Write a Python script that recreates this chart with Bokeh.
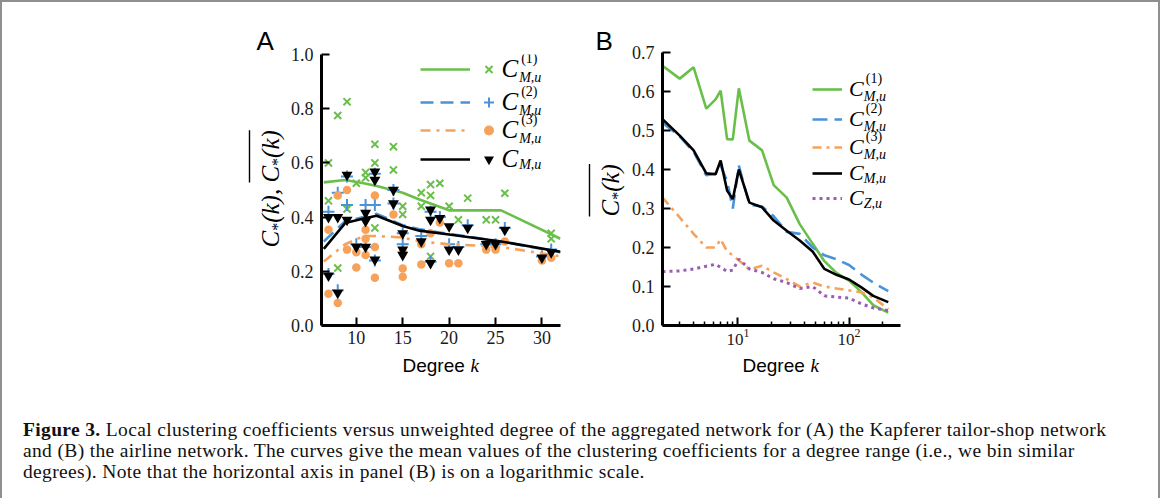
import math
from bokeh.plotting import figure
from bokeh.models import (Label, Legend, LegendItem, Arrow, FixedTicker, Div, Range1d,
                          NumeralTickFormatter, LogTickFormatter)
from bokeh.layouts import row, column
from bokeh.embed import file_html
from bokeh.resources import INLINE

GREEN = "#6abf4b"
BLUE = "#4a93d8"
ORANGE = "#f7a25a"
PURPLE = "#9b5cb4"
BLACK = "#000000"

# ---------------- Panel A: Kapferer tailor shop (scatter + binned means) ----------------
a_k_c1 = [7, 7, 8, 8, 9, 9, 10, 11, 11, 12, 12, 12, 14, 14, 15, 15, 17, 17, 18, 18, 18, 19, 20, 21, 22, 24, 25, 26, 31, 31]
a_c1 = [0.60, 0.46, 0.775, 0.212, 0.826, 0.43, 0.525, 0.565, 0.545, 0.669, 0.60, 0.36, 0.66, 0.574, 0.44, 0.41,
        0.49, 0.44, 0.52, 0.48, 0.255, 0.525, 0.44, 0.39, 0.47, 0.39, 0.39, 0.488, 0.34, 0.32]

a_k_c2 = [7, 7, 8, 8, 9, 9, 10, 11, 11, 12, 12, 12, 14, 14, 15, 15, 17, 18, 18, 19, 20, 21, 22, 24, 25, 26, 30, 31]
a_c2 = [0.42, 0.19, 0.49, 0.13, 0.445, 0.55, 0.30, 0.445, 0.29, 0.445, 0.56, 0.24, 0.50, 0.45, 0.34, 0.30,
        0.33, 0.42, 0.235, 0.40, 0.30, 0.29, 0.37, 0.30, 0.30, 0.36, 0.255, 0.28]

a_k_c3 = [7, 7, 8, 8, 9, 9, 10, 10, 11, 11, 11, 12, 12, 12, 14, 15, 15, 15, 17, 17, 18, 19, 20, 21, 24, 25, 26, 30, 31]
a_c3 = [0.117, 0.353, 0.083, 0.48, 0.50, 0.28, 0.27, 0.214, 0.353, 0.32, 0.26, 0.48, 0.29, 0.176, 0.41, 0.21,
        0.18, 0.27, 0.225, 0.30, 0.34, 0.38, 0.23, 0.23, 0.28, 0.28, 0.31, 0.24, 0.25]

a_k_cm = [7, 7, 8, 8, 9, 9, 10, 11, 11, 11, 12, 12, 12, 14, 14, 15, 15, 15, 17, 18, 18, 18, 19, 20, 20, 21, 22, 24, 25, 26, 30, 31]
a_cm = [0.184, 0.40, 0.40, 0.12, 0.556, 0.39, 0.29, 0.29, 0.415, 0.385, 0.568, 0.537, 0.243, 0.50, 0.45, 0.34,
        0.28, 0.26, 0.31, 0.427, 0.39, 0.23, 0.396, 0.366, 0.28, 0.28, 0.36, 0.30, 0.30, 0.353, 0.25, 0.27]

a_bin_k = [6.5, 8.8, 10.8, 12.2, 15.0, 16.8, 20.0, 25.6, 32.0]
a_c1_mean = [0.528, 0.537, 0.525, 0.515, 0.49, 0.465, 0.425, 0.425, 0.32]
a_c2_mean = [0.31, 0.385, 0.40, 0.412, 0.37, 0.355, 0.338, 0.31, 0.27]
a_c3_mean = [0.236, 0.30, 0.33, 0.33, 0.325, 0.31, 0.30, 0.29, 0.255]
a_cm_mean = [0.283, 0.378, 0.395, 0.405, 0.367, 0.35, 0.336, 0.31, 0.272]

a_xticks = [10, 15, 20, 25, 30]
a_yticks = [0.0, 0.2, 0.4, 0.6, 0.8, 1.0]

# ---------------- Panel B: airline network (binned means, log degree) ----------------
b_k = [2.1, 3, 4, 5.2, 6.3, 7, 8, 9, 10.2, 12.7, 16.5, 21, 27.5, 36, 47, 60, 77, 100, 130, 165, 225]
b_c1 = [0.666, 0.633, 0.662, 0.556, 0.58, 0.602, 0.478, 0.477, 0.608, 0.474, 0.449, 0.36, 0.328, 0.26, 0.21,
        0.165, 0.135, 0.115, 0.085, 0.052, 0.033]
b_c2 = [0.52, 0.485, 0.445, 0.385, 0.39, 0.41, 0.37, 0.30, 0.41, 0.31, 0.305, 0.28, 0.24, 0.235, 0.20,
        0.18, 0.17, 0.155, 0.13, 0.11, 0.088]
b_c3 = [0.328, 0.277, 0.235, 0.20, 0.20, 0.221, 0.19, 0.18, 0.167, 0.144, 0.153, 0.136, 0.119, 0.10, 0.11,
        0.10, 0.095, 0.09, 0.085, 0.072, 0.042]
b_cm = [0.529, 0.487, 0.449, 0.39, 0.388, 0.423, 0.346, 0.324, 0.40, 0.315, 0.303, 0.269, 0.243, 0.218, 0.19,
        0.145, 0.13, 0.118, 0.097, 0.076, 0.06]
b_cz = [0.138, 0.14, 0.145, 0.152, 0.157, 0.149, 0.139, 0.142, 0.17, 0.145, 0.136, 0.12, 0.11, 0.095, 0.10,
        0.076, 0.073, 0.07, 0.055, 0.045, 0.038]

b_xticks = [10, 100]
b_xminor = [3, 4, 5, 6, 7, 8, 9, 20, 30, 40, 50, 60, 70, 80, 90, 200]
b_yticks = [0.0, 0.1, 0.2, 0.3, 0.4, 0.5, 0.6, 0.7]

# ---------------- geometry (page pixels) ----------------
ORG = 8
TOTAL_W = 1150
A_XR, A_YR = (6.25, 32.0), (0.0, 1.0)
A_LEFT, A_TOP, A_W, A_H = 328, 62, 240, 271
B_XR, B_YR = (2.1, 290.0), (0.0, 0.7)
B_LEFT, B_TOP, B_W, B_H = 668, 60, 240, 273
PA_X, PA_W = 295, 295          # figure A spans 295..590
PB_X, PB_W = 636, 522          # figure B spans 636..1158
PLOT_BOTTOM = 360
ROW_H = PLOT_BOTTOM - ORG
STRIP_H = 28
CAP_H = 488 - ROW_H - STRIP_H


def ax_(px):
    return A_XR[0] + (px - A_LEFT) * (A_XR[1] - A_XR[0]) / A_W


def ay_(py):
    return A_YR[0] + (A_TOP + A_H - py) * (A_YR[1] - A_YR[0]) / A_H


def bx_(px):
    l0, l1 = math.log10(B_XR[0]), math.log10(B_XR[1])
    return 10 ** (l0 + (px - B_LEFT) * (l1 - l0) / B_W)


def by_(py):
    return B_YR[0] + (B_TOP + B_H - py) * (B_YR[1] - B_YR[0]) / B_H


def lab(p, x, y, text, size, font="Liberation Serif", style="normal", angle=0.0,
        align="left", baseline="middle"):
    p.add_layout(Label(x=x, y=y, text=text, text_font=font, text_font_size=f"{size}px",
                       text_font_style=style, angle=angle, text_align=align,
                       text_baseline=baseline, text_color="black"))


def canvas(x0, y0, w, h):
    """A bare figure whose frame is the whole box; its coordinates are page pixels."""
    c = figure(x_range=Range1d(x0, x0 + w), y_range=Range1d(y0 + h, y0),
               width=w, height=h, min_border=0,
               min_border_left=0, min_border_right=0, min_border_top=0, min_border_bottom=0,
               x_axis_location=None, y_axis_location=None, title=None,
               output_backend="svg", toolbar_location=None)
    c.outline_line_color = None
    c.background_fill_color = None
    c.border_fill_color = None
    c.grid.visible = False
    return c


def style_axes(p):
    p.outline_line_color = None
    p.grid.visible = False
    p.background_fill_color = None
    p.border_fill_color = None
    for ax in (p.xaxis[0], p.yaxis[0]):
        ax.axis_line_width = 3
        ax.axis_line_color = "black"
        ax.major_tick_line_width = 2
        ax.major_tick_in = 8
        ax.major_tick_out = 0
        ax.minor_tick_line_color = None
        ax.major_label_text_font = "Liberation Serif"
        ax.major_label_text_font_size = "18px"
        ax.major_label_text_color = "#1a1a1a"
        ax.major_label_standoff = 8
    p.xaxis.major_label_standoff = 5


def add_legend(p, renderer, loc, gw, gh, label, standoff, size=25, lw=0):
    lg = Legend(items=[LegendItem(label=label, renderers=[renderer])], location=loc,
                glyph_width=gw, glyph_height=gh, label_height=gh, label_width=lw,
                label_standoff=standoff, padding=0, margin=0, spacing=0,
                border_line_color=None, background_fill_alpha=0,
                label_text_font="Liberation Serif", label_text_font_style="italic",
                label_text_font_size=f"{size}px", label_text_color="black")
    p.add_layout(lg)


def rotated_label(c, xb, y_start, pieces, over_from, over_x):
    """Vertical (reading upward) math-like label built from pieces, with an overline."""
    y = y_start
    starts = []
    for t, s, st, sh, w in pieces:
        starts.append(y)
        lab(c, xb + sh, y, t, s, style=st, angle=math.pi / 2, baseline="alphabetic")
        y -= w * s
    c.add_layout(Arrow(x_start=over_x, y_start=starts[over_from], x_end=over_x, y_end=y,
                       start=None, end=None, line_width=1.4, line_color="black"))


# ================= Panel A =================
pA = figure(width=PA_W, height=ROW_H, x_range=Range1d(*A_XR), y_range=Range1d(*A_YR),
            min_border_left=A_LEFT - PA_X, min_border_right=PA_X + PA_W - (A_LEFT + A_W),
            min_border_top=A_TOP - ORG, min_border_bottom=PLOT_BOTTOM - (A_TOP + A_H),
            title=None, output_backend="svg", toolbar_location=None)
style_axes(pA)
pA.xaxis.ticker = FixedTicker(ticks=a_xticks)
pA.yaxis.ticker = FixedTicker(ticks=a_yticks)
pA.yaxis.formatter = NumeralTickFormatter(format="0.0")

sA1 = pA.scatter(a_k_c1, a_c1, marker="x", size=10, line_color=GREEN, line_width=2)
lA1 = pA.line(a_bin_k, a_c1_mean, line_color=GREEN, line_width=2.6)
sA2 = pA.scatter(a_k_c2, a_c2, marker="cross", size=12, line_color=BLUE, line_width=2)
lA2 = pA.line(a_bin_k, a_c2_mean, line_color=BLUE, line_width=2.6, line_dash="13 7")
sA3 = pA.scatter(a_k_c3, a_c3, marker="circle", size=8.5, fill_color=ORANGE, line_color=None)
lA3 = pA.line(a_bin_k, a_c3_mean, line_color=ORANGE, line_width=2.6, line_dash="10 6 3 6")
sA4 = pA.scatter(a_k_cm, a_cm, marker="inverted_triangle", size=11, fill_color=BLACK, line_color=None)
lA4 = pA.line(a_bin_k, a_cm_mean, line_color=BLACK, line_width=2.6)

A_BOTTOM = A_TOP + A_H
rowsA = [77, 110, 138, 167]
supsA = ["(1)", "(2)", "(3)", None]
for c, ln, sc, sup in zip(rowsA, [lA1, lA2, lA3, lA4], [sA1, sA2, sA3, sA4], supsA):
    add_legend(pA, ln, (427 - A_LEFT, A_BOTTOM - (c + 20)), 50, 40, " ", 0)
    add_legend(pA, sc, (482.5 - A_LEFT, A_BOTTOM - (c + 20)), 25, 40, "C", 1)
    xC = 508.5
    if sup:
        lab(pA, ax_(xC + 20), ay_(c - 11), sup, 14)
        lab(pA, ax_(xC + 18), ay_(c + 8), "M,u", 14, style="italic")
    else:
        lab(pA, ax_(xC + 18), ay_(c + 5), "M,u", 14, style="italic")

# ================= Panel B =================
pB = figure(width=PB_W, height=ROW_H, x_axis_type="log",
            x_range=Range1d(*B_XR), y_range=Range1d(*B_YR),
            min_border_left=B_LEFT - PB_X, min_border_right=PB_X + PB_W - (B_LEFT + B_W),
            min_border_top=B_TOP - ORG, min_border_bottom=PLOT_BOTTOM - (B_TOP + B_H),
            title=None, output_backend="svg", toolbar_location=None)
style_axes(pB)
pB.xaxis.ticker = FixedTicker(ticks=b_xticks, minor_ticks=b_xminor)
pB.xaxis.formatter = LogTickFormatter()
pB.xaxis.major_label_standoff = 3
pB.xaxis.major_label_text_font_size = "17px"
pB.xaxis.minor_tick_line_color = "black"
pB.xaxis.minor_tick_line_width = 1.5
pB.xaxis.minor_tick_in = 4
pB.xaxis.minor_tick_out = 0
pB.yaxis.ticker = FixedTicker(ticks=b_yticks)
pB.yaxis.formatter = NumeralTickFormatter(format="0.0")

lB1 = pB.line(b_k, b_c1, line_color=GREEN, line_width=2.6)
lB2 = pB.line(b_k, b_c2, line_color=BLUE, line_width=2.6, line_dash="15 7")
lB3 = pB.line(b_k, b_c3, line_color=ORANGE, line_width=2.6, line_dash="9 5 3 5")
lB4 = pB.line(b_k, b_cm, line_color=BLACK, line_width=2.6)
lB5 = pB.line(b_k, b_cz, line_color=PURPLE, line_width=3, line_dash="3 4")

B_BOTTOM = B_TOP + B_H
rowsB = [97, 127, 155, 181, 206]
supsB = ["(1)", "(2)", "(3)", None, None]
subsB = ["M,u", "M,u", "M,u", "M,u", "Z,u"]
for c, ln, sup, sub in zip(rowsB, [lB1, lB2, lB3, lB4, lB5], supsB, subsB):
    add_legend(pB, ln, (818 - B_LEFT, B_BOTTOM - (c + 20)), 30, 40, "C", 7, size=22)
    xC = 855
    if sup:
        lab(pB, bx_(xC + 18), by_(c - 11), sup, 14)
        lab(pB, bx_(xC + 16), by_(c + 7), sub, 14, style="italic")
    else:
        lab(pB, bx_(xC + 16), by_(c + 5), sub, 14, style="italic")

# ================= text canvases around the panels =================
tA_left = canvas(ORG, ORG, PA_X - ORG, ROW_H)
lab(tA_left, 264, 48, "A", 26, font="Liberation Sans")
rotated_label(tA_left, 278, 255,
              [("C", 25, "italic", 0, 0.667), ("*", 16, "normal", 7, 0.5), ("(k), ", 25, "italic", 0, 1.61),
               ("C", 25, "italic", 0, 0.667), ("*", 16, "normal", 7, 0.5), ("(k)", 25, "italic", 0, 1.11)],
              3, 257)

tB_left = canvas(PA_X + PA_W, ORG, PB_X - (PA_X + PA_W), ROW_H)
lab(tB_left, 603, 48, "B", 26, font="Liberation Sans")
rotated_label(tB_left, 618, 224,
              [("C", 25, "italic", 0, 0.667), ("*", 16, "normal", 7, 0.5), ("(k)", 25, "italic", 0, 1.11)],
              0, 597)

strip = canvas(ORG, PLOT_BOTTOM, TOTAL_W, STRIP_H)
lab(strip, 410, 373, "Degree", 19, font="Liberation Sans")
lab(strip, 478, 373, "k", 19, style="italic")
lab(strip, 750, 373, "Degree", 19, font="Liberation Sans")
lab(strip, 818, 373, "k", 19, style="italic")

# ================= caption =================
cap_html = (
    "<div style=\"font-family:'Liberation Serif';font-size:19.5px;letter-spacing:0.35px;"
    "line-height:21px;color:#111;white-space:nowrap;padding:34px 0 0 18px;\">"
    "<b>Figure 3.</b> Local clustering coefficients versus unweighted degree of the aggregated network "
    "for (A) the Kapferer tailor-shop network<br>"
    "and (B) the airline network. The curves give the mean values of the clustering coefficients for a "
    "degree range (i.e., we bin similar<br>"
    "degrees). Note that the horizontal axis in panel (B) is on a logarithmic scale.</div>"
)
cap = Div(text=cap_html, width=TOTAL_W, height=CAP_H)

# each figure sits in its own column so that Bokeh does not line up their borders
top = row(column(tA_left), column(pA), column(tB_left), column(pB))
layout = column(top, column(strip), cap,
                styles={"box-shadow": "inset 2px 2px 0 0 #8f8f8f, inset -2px 0 0 0 #8f8f8f"})

open("out.html", "w").write(file_html(layout, INLINE))
